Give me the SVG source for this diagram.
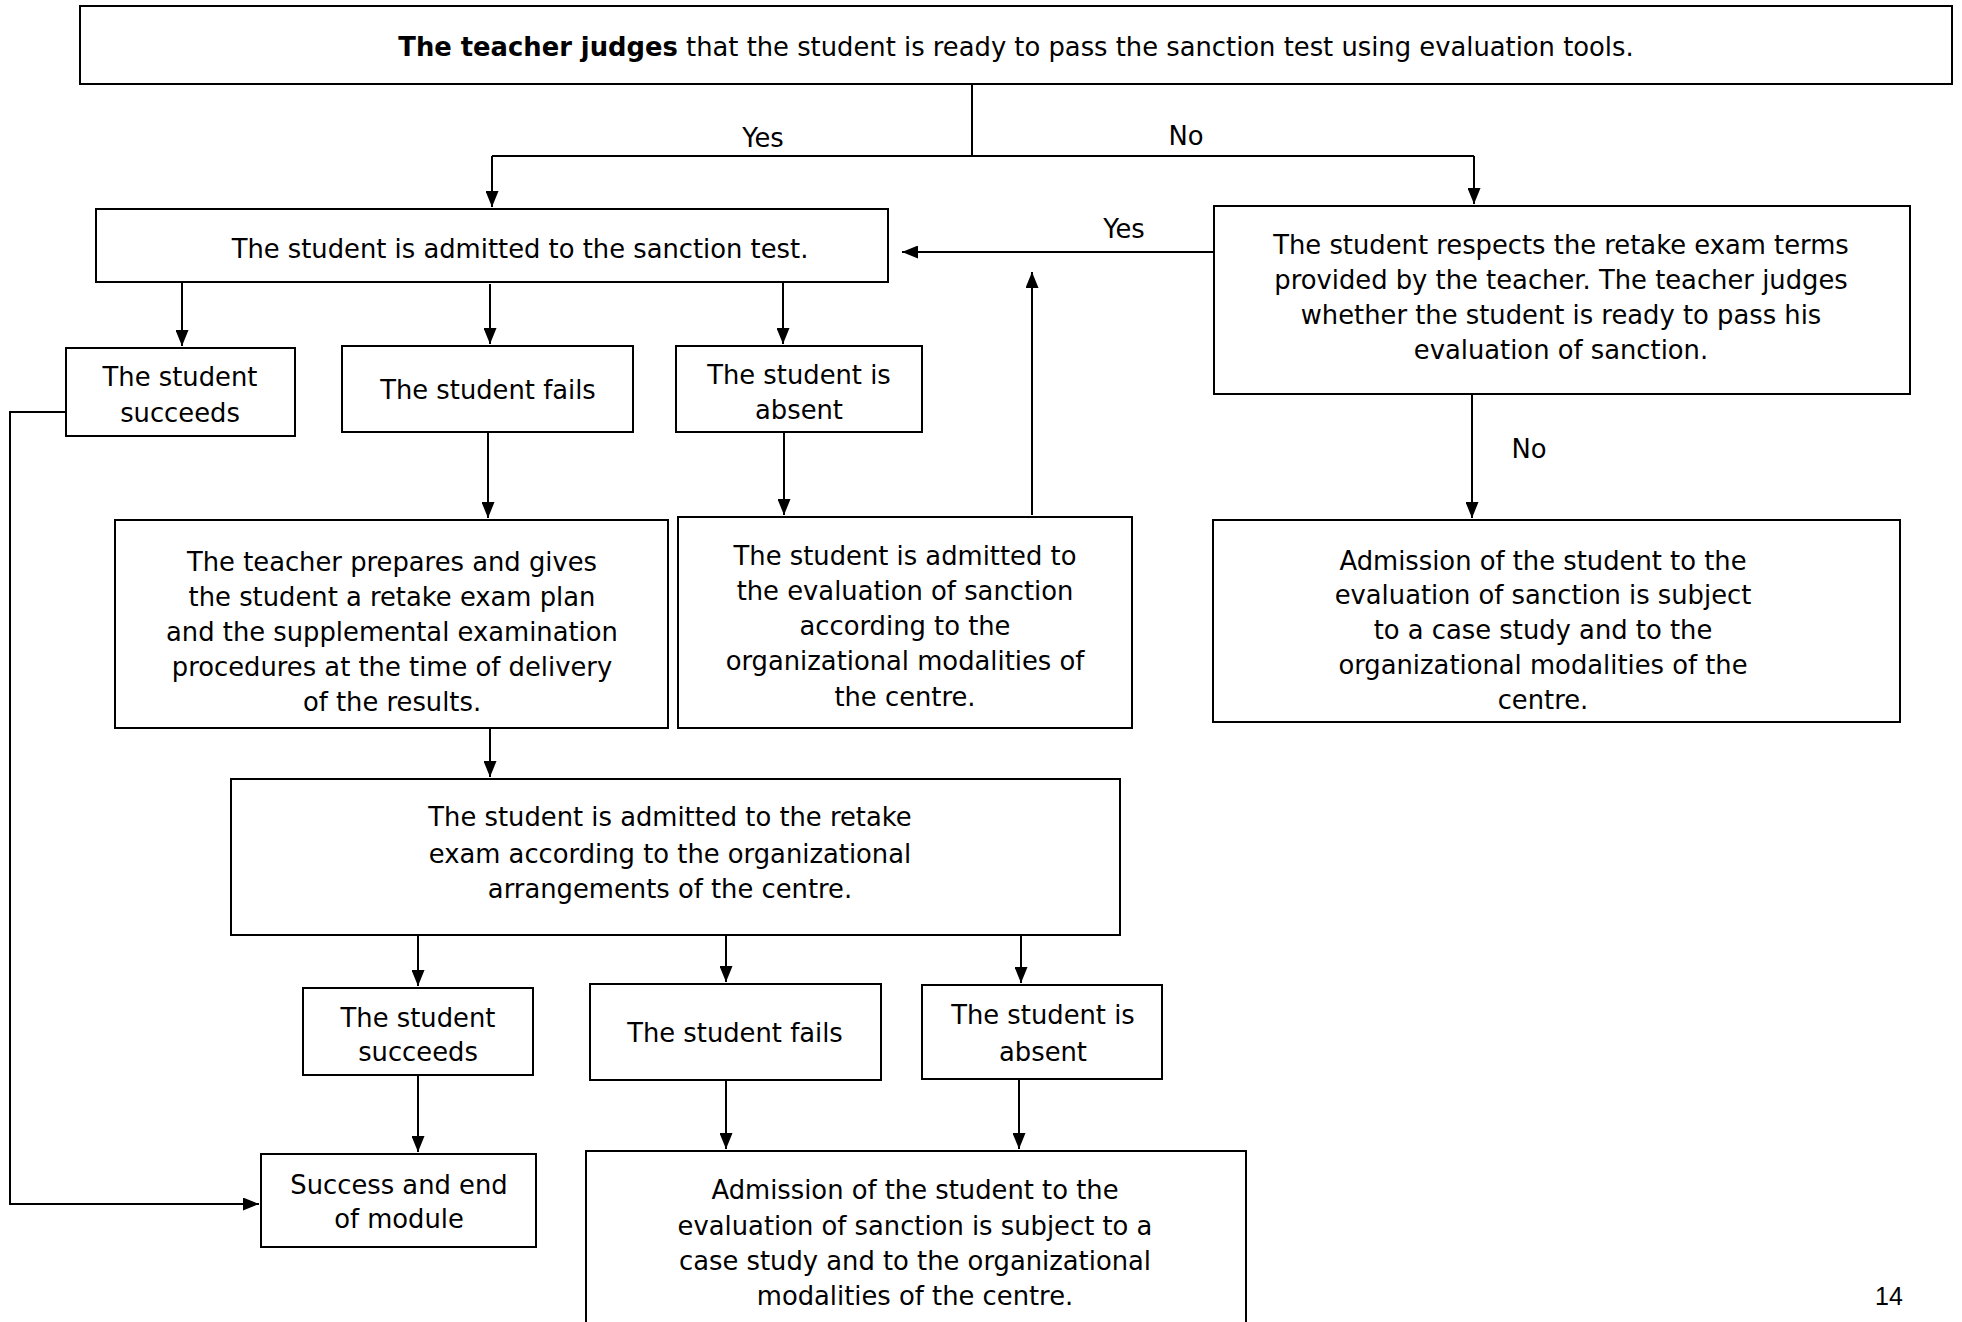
<svg xmlns="http://www.w3.org/2000/svg" width="1962" height="1322" viewBox="0 0 1962 1322">
<style>
.box{fill:#fff;stroke:#000;stroke-width:2}
.t{font-family:"DejaVu Sans",Verdana,sans-serif;font-size:25.8px;fill:#000;text-anchor:middle}
.c{fill:none;stroke:#000;stroke-width:2}
.pg{font-family:"Liberation Sans",Arial,sans-serif;font-size:25px;fill:#000;text-anchor:middle}
</style>
<defs>
<marker id="ah" markerUnits="userSpaceOnUse" markerWidth="17" markerHeight="13" refX="16" refY="6.5" orient="auto">
<path d="M0,0 L16,6.5 L0,13 z" fill="#000"/>
</marker>
</defs>
<rect width="1962" height="1322" fill="#fff"/>

<g id="connectors">
<path class="c" d="M972 84 V156 M492 156 H1474"/>
<path class="c" d="M492 156 V207" marker-end="url(#ah)"/>
<path class="c" d="M1474 156 V204" marker-end="url(#ah)"/>
<path class="c" d="M182 282 V346" marker-end="url(#ah)"/>
<path class="c" d="M490 284 V344" marker-end="url(#ah)"/>
<path class="c" d="M783 282 V344" marker-end="url(#ah)"/>
<path class="c" d="M488 432 V518" marker-end="url(#ah)"/>
<path class="c" d="M784 432 V515" marker-end="url(#ah)"/>
<path class="c" d="M1032 515 V272" marker-end="url(#ah)"/>
<path class="c" d="M1214 252 H902" marker-end="url(#ah)"/>
<path class="c" d="M1472 394 V518" marker-end="url(#ah)"/>
<path class="c" d="M490 728 V777" marker-end="url(#ah)"/>
<path class="c" d="M418 935 V986" marker-end="url(#ah)"/>
<path class="c" d="M726 935 V982" marker-end="url(#ah)"/>
<path class="c" d="M1021 935 V983" marker-end="url(#ah)"/>
<path class="c" d="M418 1075 V1152" marker-end="url(#ah)"/>
<path class="c" d="M726 1080 V1149" marker-end="url(#ah)"/>
<path class="c" d="M1019 1079 V1149" marker-end="url(#ah)"/>
<path class="c" d="M66 412 H10 V1204 H259" marker-end="url(#ah)"/>
<text class="t" x="763" y="147">Yes</text>
<text class="t" x="1186" y="145">No</text>
<text class="t" x="1124" y="238">Yes</text>
<text class="t" x="1529" y="458">No</text>
</g>

<g id="n-top">
<rect class="box" x="80" y="6" width="1872" height="78"/>
<text class="t" x="1016" y="56"><tspan font-weight="bold">The teacher judges</tspan> that the student is ready to pass the sanction test using evaluation tools.</text>
</g>
<g id="n-sanction">
<rect class="box" x="96" y="209" width="792" height="73"/>
<text class="t" x="520" y="258">The student is admitted to the sanction test.</text>
</g>
<g id="n-respects">
<rect class="box" x="1214" y="206" width="696" height="188"/>
<text class="t" x="1561" y="254">The student respects the retake exam terms</text>
<text class="t" x="1561" y="289">provided by the teacher. The teacher judges</text>
<text class="t" x="1561" y="324">whether the student is ready to pass his</text>
<text class="t" x="1561" y="359">evaluation of sanction.</text>
</g>
<g id="n-succ1">
<rect class="box" x="66" y="348" width="229" height="88"/>
<text class="t" x="180" y="386">The student</text>
<text class="t" x="180" y="422">succeeds</text>
</g>
<g id="n-fail1">
<rect class="box" x="342" y="346" width="291" height="86"/>
<text class="t" x="488" y="399">The student fails</text>
</g>
<g id="n-abs1">
<rect class="box" x="676" y="346" width="246" height="86"/>
<text class="t" x="799" y="384">The student is</text>
<text class="t" x="799" y="419">absent</text>
</g>
<g id="n-plan">
<rect class="box" x="115" y="520" width="553" height="208"/>
<text class="t" x="392" y="571">The teacher prepares and gives</text>
<text class="t" x="392" y="606">the student a retake exam plan</text>
<text class="t" x="392" y="641">and the supplemental examination</text>
<text class="t" x="392" y="676">procedures at the time of delivery</text>
<text class="t" x="392" y="711">of the results.</text>
</g>
<g id="n-admitted-eval">
<rect class="box" x="678" y="517" width="454" height="211"/>
<text class="t" x="905" y="565">The student is admitted to</text>
<text class="t" x="905" y="600">the evaluation of sanction</text>
<text class="t" x="905" y="635">according to the</text>
<text class="t" x="905" y="670">organizational modalities of</text>
<text class="t" x="905" y="706">the centre.</text>
</g>
<g id="n-case1">
<rect class="box" x="1213" y="520" width="687" height="202"/>
<text class="t" x="1543" y="570">Admission of the student to the</text>
<text class="t" x="1543" y="604">evaluation of sanction is subject</text>
<text class="t" x="1543" y="639">to a case study and to the</text>
<text class="t" x="1543" y="674">organizational modalities of the</text>
<text class="t" x="1543" y="709">centre.</text>
</g>
<g id="n-retake">
<rect class="box" x="231" y="779" width="889" height="156"/>
<text class="t" x="670" y="826">The student is admitted to the retake</text>
<text class="t" x="670" y="863">exam according to the organizational</text>
<text class="t" x="670" y="898">arrangements of the centre.</text>
</g>
<g id="n-succ2">
<rect class="box" x="303" y="988" width="230" height="87"/>
<text class="t" x="418" y="1027">The student</text>
<text class="t" x="418" y="1061">succeeds</text>
</g>
<g id="n-fail2">
<rect class="box" x="590" y="984" width="291" height="96"/>
<text class="t" x="735" y="1042">The student fails</text>
</g>
<g id="n-abs2">
<rect class="box" x="922" y="985" width="240" height="94"/>
<text class="t" x="1043" y="1024">The student is</text>
<text class="t" x="1043" y="1061">absent</text>
</g>
<g id="n-success">
<rect class="box" x="261" y="1154" width="275" height="93"/>
<text class="t" x="399" y="1194">Success and end</text>
<text class="t" x="399" y="1228">of module</text>
</g>
<g id="n-case2">
<rect class="box" x="586" y="1151" width="660" height="190"/>
<text class="t" x="915" y="1199">Admission of the student to the</text>
<text class="t" x="915" y="1235">evaluation of sanction is subject to a</text>
<text class="t" x="915" y="1270">case study and to the organizational</text>
<text class="t" x="915" y="1305">modalities of the centre.</text>
</g>
<text class="pg" x="1889" y="1305">14</text>
</svg>
